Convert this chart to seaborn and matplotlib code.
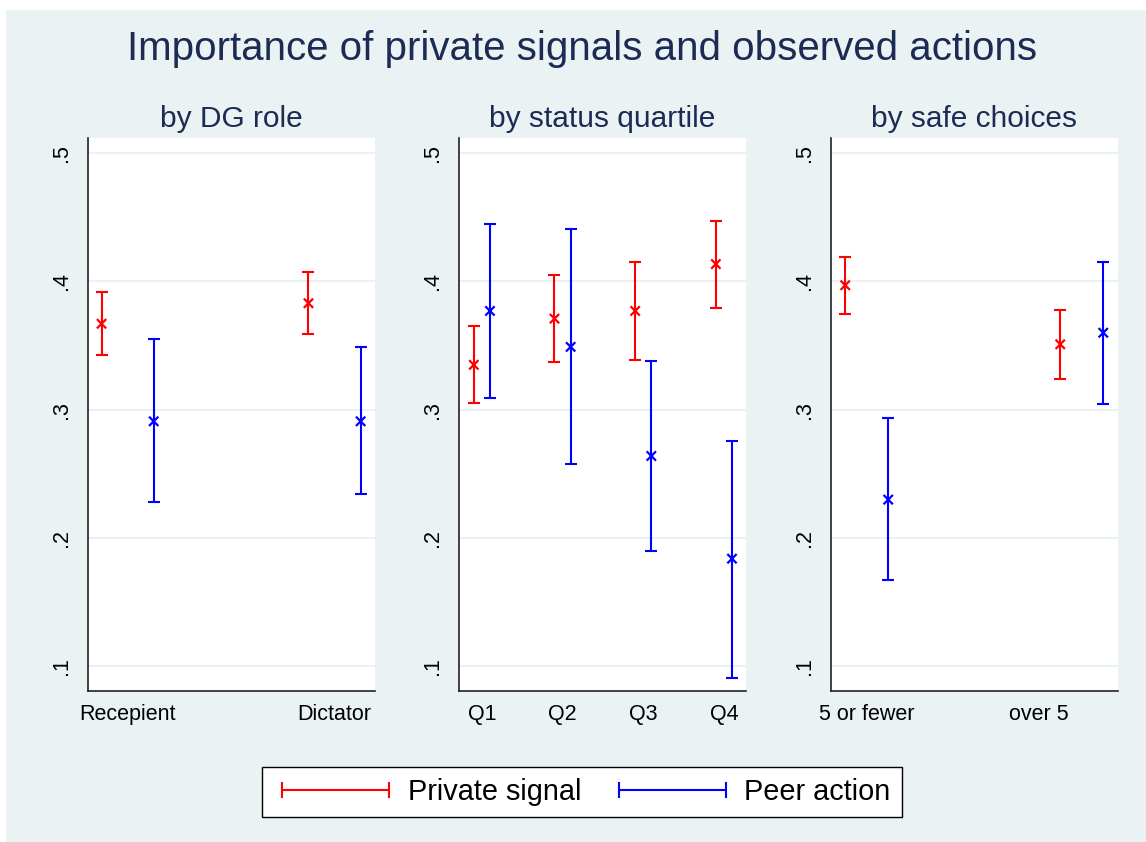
import matplotlib
matplotlib.use("Agg")
import matplotlib.pyplot as plt
from matplotlib.lines import Line2D
from matplotlib.patches import Rectangle
import seaborn as sns
import pandas as pd

# panel 1: by DG role
dg_groups = ["Recepient", "Dictator"]
dg_private = [0.367, 0.383]
dg_private_lo = [0.3425, 0.359]
dg_private_hi = [0.392, 0.407]
dg_peer = [0.291, 0.291]
dg_peer_lo = [0.228, 0.234]
dg_peer_hi = [0.355, 0.349]

# panel 2: by status quartile
status_groups = ["Q1", "Q2", "Q3", "Q4"]
status_private = [0.335, 0.371, 0.377, 0.4135]
status_private_lo = [0.305, 0.337, 0.339, 0.379]
status_private_hi = [0.365, 0.405, 0.415, 0.447]
status_peer = [0.377, 0.349, 0.264, 0.184]
status_peer_lo = [0.309, 0.2575, 0.190, 0.091]
status_peer_hi = [0.445, 0.441, 0.338, 0.276]

# panel 3: by safe choices
safe_groups = ["5 or fewer", "over 5"]
safe_private = [0.397, 0.351]
safe_private_lo = [0.3747, 0.3243]
safe_private_hi = [0.419, 0.378]
safe_peer = [0.230, 0.360]
safe_peer_lo = [0.1674, 0.3043]
safe_peer_hi = [0.2936, 0.415]

series = ["Private signal", "Peer action"]
colors = {"Private signal": "#FF0000", "Peer action": "#0000FF"}

BG = "#EAF2F3"
TITLE_COLOR = "#1C2B54"

sns.set_theme(style="white")
plt.rcParams["font.family"] = ["Liberation Sans", "DejaVu Sans"]
plt.rcParams["text.color"] = "black"

panels = [
    dict(title="by DG role", groups=dg_groups, centers=[0, 1], dodge=0.126,
         xlim=(-0.19, 1.194),
         vals=[(dg_private, dg_private_lo, dg_private_hi), (dg_peer, dg_peer_lo, dg_peer_hi)]),
    dict(title="by status quartile", groups=status_groups, centers=[0, 1, 2, 3], dodge=0.1,
         xlim=(-0.28, 3.27),
         vals=[(status_private, status_private_lo, status_private_hi),
               (status_peer, status_peer_lo, status_peer_hi)]),
    dict(title="by safe choices", groups=safe_groups, centers=[0, 1.25], dodge=0.125,
         xlim=(-0.206, 1.459),
         vals=[(safe_private, safe_private_lo, safe_private_hi), (safe_peer, safe_peer_lo, safe_peer_hi)]),
]

fig = plt.figure(figsize=(11.46, 8.42), dpi=100)
fig.patch.set_facecolor("white")
fig.add_artist(Rectangle((6 / 1146, 0), 1, 1 - 10 / 842, transform=fig.transFigure,
                         facecolor=BG, edgecolor="none", zorder=-10))

lefts = [88.3 / 1146, 459.3 / 1146, 831.3 / 1146]
bottom = (842 - 691.4) / 842
height = (691.4 - 138.4) / 842
width = 286.4 / 1146

for left, p in zip(lefts, panels):
    ax = fig.add_axes([left, bottom, width, height])
    ax.set_facecolor("white")

    rows = []
    for k, name in enumerate(series):
        mean, lo, hi = p["vals"][k]
        off = -p["dodge"] if k == 0 else p["dodge"]
        for i, g in enumerate(p["groups"]):
            rows.append(dict(x=p["centers"][i] + off, y=mean[i], lo=lo[i], hi=hi[i], series=name))
    df = pd.DataFrame(rows)

    for name in series:
        d = df[df["series"] == name]
        ax.errorbar(d["x"], d["y"], yerr=[d["y"] - d["lo"], d["hi"] - d["y"]], fmt="none",
                    ecolor=colors[name], elinewidth=1.5, capsize=4.5, capthick=1.5, zorder=3)
    sns.scatterplot(data=df, x="x", y="y", hue="series", palette=colors, marker="x",
                    s=45, linewidth=1.6, legend=False, ax=ax, zorder=4)

    ax.set_xlim(*p["xlim"])
    ax.set_ylim(0.0806, 0.5114)
    ax.set_yticks([0.1, 0.2, 0.3, 0.4, 0.5])
    ax.set_yticklabels([".1", ".2", ".3", ".4", ".5"], rotation=90, va="center")
    ax.set_xticks(list(range(len(p["groups"]))))
    ax.set_xticklabels(p["groups"])
    ax.set_xlabel("")
    ax.set_ylabel("")
    ax.grid(axis="y", color=BG, linewidth=1.5)
    ax.set_axisbelow(True)
    for s in ["top", "right"]:
        ax.spines[s].set_visible(False)
    for s in ["left", "bottom"]:
        ax.spines[s].set_color("#222222")
        ax.spines[s].set_linewidth(1.2)
    ax.tick_params(axis="both", direction="out", length=5, width=1, color="#222222",
                   labelsize=15.5, labelcolor="black")
    ax.tick_params(axis="y", pad=7)
    ax.tick_params(axis="x", pad=4)
    ax.set_title(p["title"], fontsize=21.5, color=TITLE_COLOR, pad=8)

fig.text(582 / 1146, 1 - 49 / 842, "Importance of private signals and observed actions",
         ha="center", va="center", fontsize=29, color=TITLE_COLOR)

handles = [Line2D([0], [0], color=colors[n], lw=1.5, marker="|", markersize=11,
                  markeredgewidth=1.5) for n in series]
leg = fig.legend(handles, series, loc="center", bbox_to_anchor=(582 / 1146, 1 - 792 / 842),
                 ncol=2, numpoints=2, fontsize=20.8, handlelength=4.3, handletextpad=0.35,
                 columnspacing=1.0, borderpad=0.38, borderaxespad=0, frameon=True, fancybox=False,
                 labelcolor="black")
leg.get_frame().set_edgecolor("black")
leg.get_frame().set_linewidth(1.0)
leg.get_frame().set_facecolor("white")
leg.get_frame().set_alpha(1)

fig.savefig("out.png", dpi=100, facecolor=fig.get_facecolor())
